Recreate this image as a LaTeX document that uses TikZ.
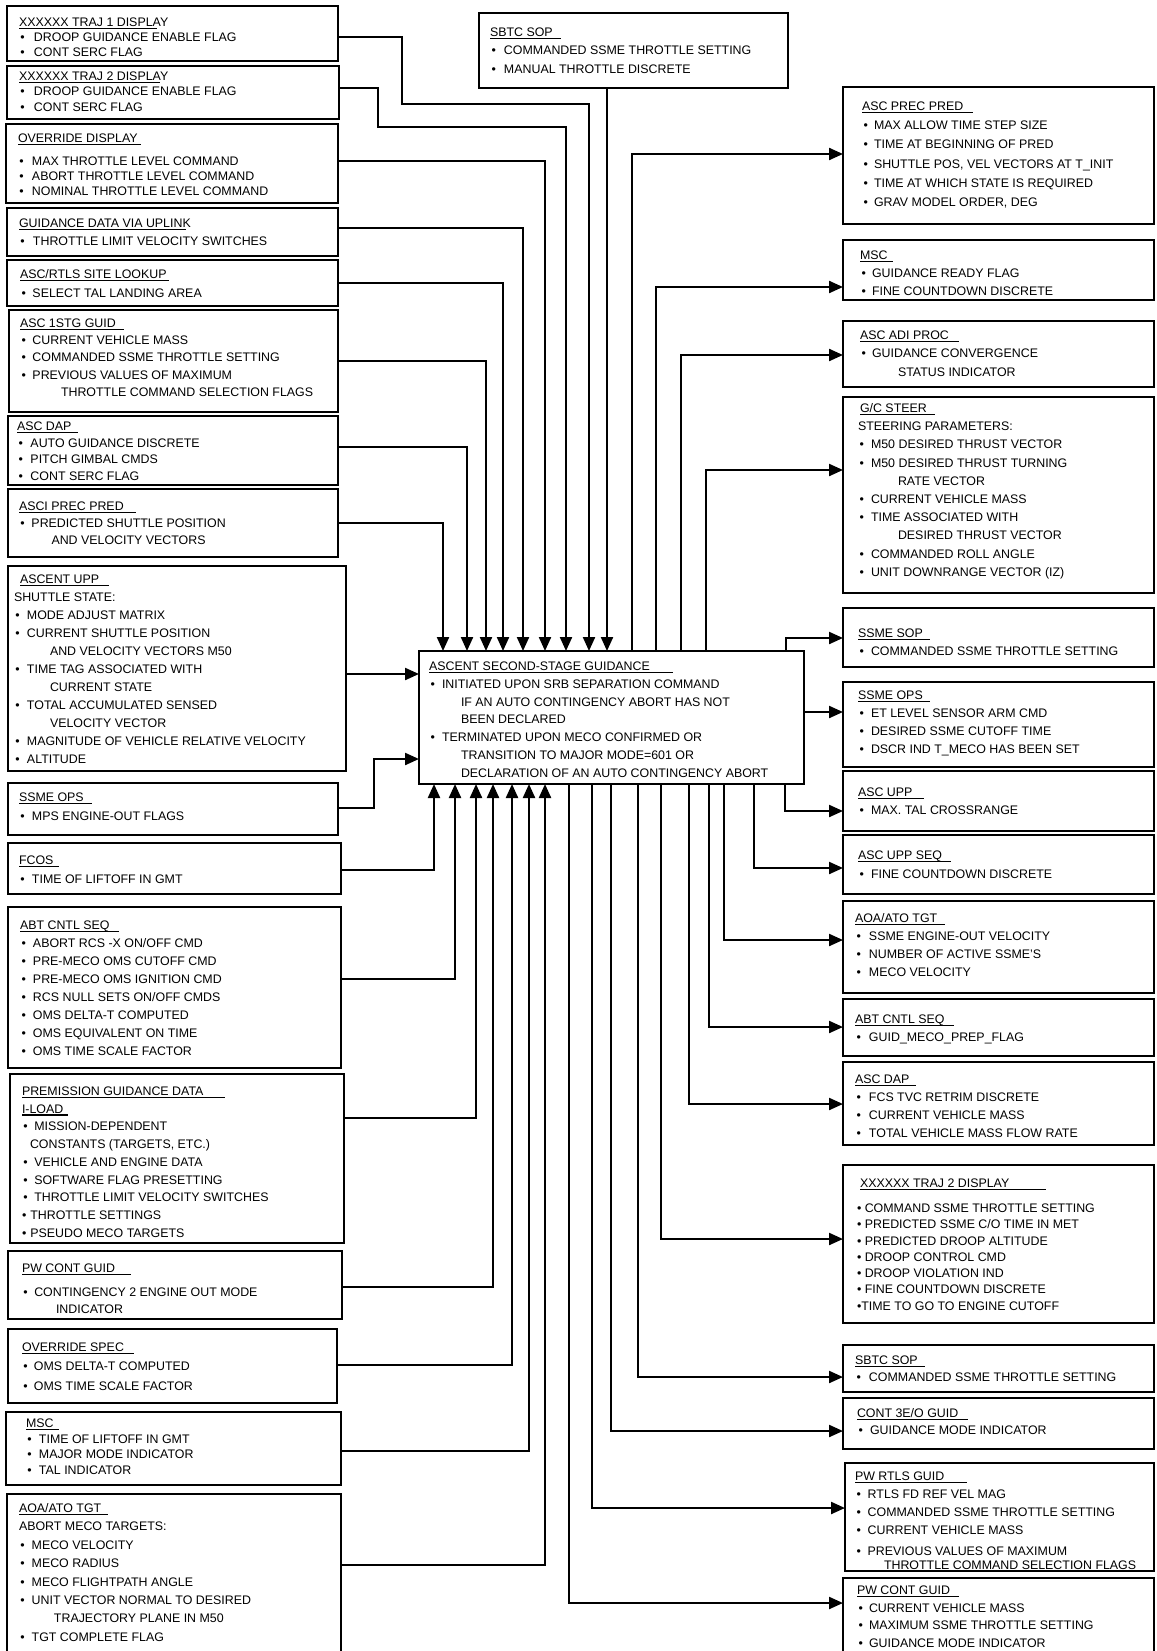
\documentclass[tikz,border=0pt]{standalone}
\usepackage{fontspec}
\setmainfont{Liberation Sans}
\usetikzlibrary{arrows.meta}
\newsavebox\ulb
\newcommand\ulx[2][8]{\sbox\ulb{#2}\rlap{\rule[-3pt]{\dimexpr\wd\ulb+#1pt\relax}{1.8pt}}\usebox\ulb}
\newcommand\bul[1][11.5]{\hspace*{1.5pt}\makebox[#1pt][l]{\textbullet}}
\newcommand\mkbox[5]{\node[bxs, minimum width={#4-#2}, minimum height={#5-#3}] (#1) at (#2,#3) {};}
\newcommand\mktext[5]{\node[txts, font=\fontsize{12.4}{#4}\selectfont] (#1) at (#2,{#3+4.4-0.7*#4}) {\strut#5};}
\tikzset{
  bxs/.style={draw, line width=2.8pt, inner sep=0pt, outer sep=0pt, anchor=north west},
  txts/.style={anchor=north west, inner sep=0pt, outer sep=0pt, align=left},
  conn/.style={line width=2.2pt},
  arr/.style={conn, -{Triangle[length=14pt,width=12pt]}},
}
\begin{document}
\begin{tikzpicture}[x=1pt,y=-1pt]
\fill[white] (0,0) rectangle (1156,1651);
\useasboundingbox (0,0) rectangle (1156,1651);

% ---------------- left column ----------------
\mkbox{tl1}{7}{6}{338}{61}
\mktext{tl1t}{19}{22}{15}{\ulx[-11]{XXXXXX TRAJ 1 DISPLAY}\\ \bul[13.5]DROOP GUIDANCE ENABLE FLAG\\ \bul[13.5]CONT SERC FLAG}
\mkbox{tl2}{7}{66}{339}{119}
\mktext{tl2t}{19}{76}{15.5}{\ulx[-8]{XXXXXX TRAJ 2 DISPLAY}\\ \bul[13.5]DROOP GUIDANCE ENABLE FLAG\\ \bul[13.5]CONT SERC FLAG}
\mkbox{ovd}{6}{124}{338}{203}
\mktext{ovdt}{18}{138}{15}{\ulx[3]{OVERRIDE DISPLAY}\\[8pt] \bul[12.5]MAX THROTTLE LEVEL COMMAND\\ \bul[12.5]ABORT THROTTLE LEVEL COMMAND\\ \bul[12.5]NOMINAL THROTTLE LEVEL COMMAND}
\mkbox{gdu}{7}{208}{338}{256}
\mktext{gdut}{19}{223}{18}{\ulx[-5]{GUIDANCE DATA VIA UPLINK}\\ \bul[12.5]THROTTLE LIMIT VELOCITY SWITCHES}
\mkbox{rtls}{7}{260}{338}{306}
\mktext{rtlst}{20}{274}{19}{\ulx[2]{ASC/RTLS SITE LOOKUP}\\ \bul[11]SELECT TAL LANDING AREA}
\mkbox{s1g}{9}{310}{338}{412}
\mktext{s1gt}{20}{323}{17.25}{\ulx[8]{ASC 1STG GUID}\\ \bul[11]CURRENT VEHICLE MASS\\ \bul[11]COMMANDED SSME THROTTLE SETTING\\ \bul[11]PREVIOUS VALUES OF MAXIMUM\\ \hspace*{41pt}THROTTLE COMMAND SELECTION FLAGS}
\mkbox{dapL}{8}{416}{338}{485}
\mktext{dapLt}{17}{426}{16.7}{\ulx[7]{ASC DAP}\\ \bul[12]AUTO GUIDANCE DISCRETE\\ \bul[12]PITCH GIMBAL CMDS\\ \bul[12]CONT SERC FLAG}
\mkbox{asci}{8}{489}{338}{557}
\mktext{ascit}{19}{506}{17}{\ulx[12]{ASCI PREC PRED}\\ \bul[11]PREDICTED SHUTTLE POSITION\\ \hspace*{32.5pt}AND VELOCITY VECTORS}
\mkbox{aupp}{8}{566}{346}{771}
\mktext{auppt}{14}{579}{18}{\hspace*{6pt}\ulx[10]{ASCENT UPP}\\ SHUTTLE STATE:\\ \bul MODE ADJUST MATRIX\\ \bul CURRENT SHUTTLE POSITION\\ \hspace*{36pt}AND VELOCITY VECTORS M50\\ \bul TIME TAG ASSOCIATED WITH\\ \hspace*{36pt}CURRENT STATE\\ \bul TOTAL ACCUMULATED SENSED\\ \hspace*{36pt}VELOCITY VECTOR\\ \bul MAGNITUDE OF VEHICLE RELATIVE VELOCITY\\ \bul ALTITUDE}
\mkbox{ssmeL}{8}{783}{338}{835}
\mktext{ssmeLt}{19}{797}{19}{\ulx[8]{SSME OPS}\\ \bul MPS ENGINE-OUT FLAGS}
\mkbox{fcos}{8}{843}{341}{894}
\mktext{fcost}{19}{860}{19}{\ulx[6]{FCOS}\\ \bul TIME OF LIFTOFF IN GMT}
\mkbox{abtL}{8}{907}{341}{1068}
\mktext{abtLt}{20}{925}{18}{\ulx[9]{ABT CNTL SEQ}\\ \bul ABORT RCS -X ON/OFF CMD\\ \bul PRE-MECO OMS CUTOFF CMD\\ \bul PRE-MECO OMS IGNITION CMD\\ \bul RCS NULL SETS ON/OFF CMDS\\ \bul OMS DELTA-T COMPUTED\\ \bul OMS EQUIVALENT ON TIME\\ \bul OMS TIME SCALE FACTOR}
\mkbox{prem}{10}{1074}{344}{1243}
\mktext{premt}{22}{1091}{17.75}{\ulx[22]{PREMISSION GUIDANCE DATA}\\ \ulx[5]{I-LOAD}\\ \bul[10.8]MISSION-DEPENDENT\\ \hspace*{8pt}CONSTANTS (TARGETS, ETC.)\\ \bul[10.8]VEHICLE AND ENGINE DATA\\ \bul[10.8]SOFTWARE FLAG PRESETTING\\ \bul[10.8]THROTTLE LIMIT VELOCITY SWITCHES\\ \textbullet\hspace{4pt}THROTTLE SETTINGS\\ \textbullet\hspace{4pt}PSEUDO MECO TARGETS}
\mkbox{pwcL}{8}{1251}{342}{1319}
\mktext{pwcLt}{22}{1268}{17}{\ulx[16]{PW CONT GUID}\\[7pt] \bul[10.8]CONTINGENCY 2 ENGINE OUT MODE\\ \hspace*{34pt}INDICATOR}
\mkbox{ovs}{8}{1329}{337}{1403}
\mktext{ovst}{22}{1347}{19.5}{\ulx[10]{OVERRIDE SPEC}\\ \bul[10.5]OMS DELTA-T COMPUTED\\ \bul[10.5]OMS TIME SCALE FACTOR}
\mkbox{mscL}{6}{1412}{341}{1485}
\mktext{mscLt}{26}{1423}{15.7}{\ulx[5]{MSC}\\ \bul TIME OF LIFTOFF IN GMT\\ \bul MAJOR MODE INDICATOR\\ \bul TAL INDICATOR}
\mkbox{aoaL}{7}{1494}{341}{1660}
\mktext{aoaLt}{19}{1508}{18.4}{\ulx[7]{AOA/ATO TGT}\\ ABORT MECO TARGETS:\\ \bul[11.2]MECO VELOCITY\\ \bul[11.2]MECO RADIUS\\ \bul[11.2]MECO FLIGHTPATH ANGLE\\ \bul[11.2]UNIT VECTOR NORMAL TO DESIRED\\ \hspace*{35pt}TRAJECTORY PLANE IN M50\\ \bul[11.2]TGT COMPLETE FLAG}

% ---------------- centre ----------------
\mkbox{sbtc}{479}{13}{788}{88}
\mktext{sbtct}{490}{32}{18.5}{\ulx[8]{SBTC SOP}\\ \bul[12.5]COMMANDED SSME THROTTLE SETTING\\ \bul[12.5]MANUAL THROTTLE DISCRETE}
\mkbox{ctr}{419}{651}{804}{784}
\mktext{ctrt}{429}{666}{17.8}{\ulx[23]{ASCENT SECOND-STAGE GUIDANCE}\\ \bul INITIATED UPON SRB SEPARATION COMMAND\\ \hspace*{32pt}IF AN AUTO CONTINGENCY ABORT HAS NOT\\ \hspace*{32pt}BEEN DECLARED\\ \bul TERMINATED UPON MECO CONFIRMED OR\\ \hspace*{32pt}TRANSITION TO MAJOR MODE=601 OR\\ \hspace*{32pt}DECLARATION OF AN AUTO CONTINGENCY ABORT}

% ---------------- right column ----------------
\mkbox{app}{843}{87}{1154}{224}
\mktext{appt}{862}{106}{19.2}{\ulx[10]{ASC PREC PRED}\\ \bul[10.5]MAX ALLOW TIME STEP SIZE\\ \bul[10.5]TIME AT BEGINNING OF PRED\\ \bul[10.5]SHUTTLE POS, VEL VECTORS AT T\_INIT\\ \bul[10.5]TIME AT WHICH STATE IS REQUIRED\\ \bul[10.5]GRAV MODEL ORDER, DEG}
\mkbox{mscR}{843}{240}{1154}{300}
\mktext{mscRt}{860}{255}{18}{\ulx[5]{MSC}\\ \bul[10.5]GUIDANCE READY FLAG\\ \bul[10.5]FINE COUNTDOWN DISCRETE}
\mkbox{adi}{843}{321}{1154}{387}
\mktext{adit}{860}{335}{18.5}{\ulx[10]{ASC ADI PROC}\\ \bul[10.5]GUIDANCE CONVERGENCE\\ \hspace*{38pt}STATUS INDICATOR}
\mkbox{gcs}{843}{397}{1154}{593}
\mktext{gcst}{858}{408}{18.2}{\hspace*{2pt}\ulx[8]{G/C STEER}\\ STEERING PARAMETERS:\\ \bul M50 DESIRED THRUST VECTOR\\ \bul M50 DESIRED THRUST TURNING\\ \hspace*{40pt}RATE VECTOR\\ \bul CURRENT VEHICLE MASS\\ \bul TIME ASSOCIATED WITH\\ \hspace*{40pt}DESIRED THRUST VECTOR\\ \bul COMMANDED ROLL ANGLE\\ \bul UNIT DOWNRANGE VECTOR (IZ)}
\mkbox{ssop}{843}{608}{1154}{667}
\mktext{ssopt}{858}{633}{18}{\ulx[7]{SSME SOP}\\ \bul COMMANDED SSME THROTTLE SETTING}
\mkbox{sopsR}{843}{682}{1154}{767}
\mktext{sopsRt}{858}{695}{18}{\ulx[7]{SSME OPS}\\ \bul ET LEVEL SENSOR ARM CMD\\ \bul DESIRED SSME CUTOFF TIME\\ \bul DSCR IND T\_MECO HAS BEEN SET}
\mkbox{auppR}{843}{771}{1154}{831}
\mktext{auppRt}{858}{792}{18}{\ulx[12]{ASC UPP}\\ \bul MAX. TAL CROSSRANGE}
\mkbox{aups}{843}{835}{1154}{894}
\mktext{aupst}{858}{855}{19}{\ulx[9]{ASC UPP SEQ}\\ \bul FINE COUNTDOWN DISCRETE}
\mkbox{aoaR}{843}{901}{1154}{993}
\mktext{aoaRt}{855}{918}{18}{\ulx[8]{AOA/ATO TGT}\\ \bul[12.5]SSME ENGINE-OUT VELOCITY\\ \bul[12.5]NUMBER OF ACTIVE SSME'S\\ \bul[12.5]MECO VELOCITY}
\mkbox{abtR}{843}{999}{1154}{1056}
\mktext{abtRt}{855}{1019}{18}{\ulx[9]{ABT CNTL SEQ}\\ \bul[12.5]GUID\_MECO\_PREP\_FLAG}
\mkbox{dapR}{843}{1062}{1154}{1145}
\mktext{dapRt}{855}{1079}{18}{\ulx[7]{ASC DAP}\\ \bul[12.5]FCS TVC RETRIM DISCRETE\\ \bul[12.5]CURRENT VEHICLE MASS\\ \bul[12.5]TOTAL VEHICLE MASS FLOW RATE}
\mkbox{tr2R}{843}{1165}{1154}{1323}
\mktext{tr2Rt}{857}{1183}{16.3}{\hspace*{3pt}\ulx[37]{XXXXXX TRAJ 2 DISPLAY}\\[8.7pt] \textbullet\ COMMAND SSME THROTTLE SETTING\\ \textbullet\ PREDICTED SSME C/O TIME IN MET\\ \textbullet\ PREDICTED DROOP ALTITUDE\\ \textbullet\ DROOP CONTROL CMD\\ \textbullet\ DROOP VIOLATION IND\\ \textbullet\ FINE COUNTDOWN DISCRETE\\ \textbullet TIME TO GO TO ENGINE CUTOFF}
\mkbox{sbtcR}{843}{1345}{1154}{1392}
\mktext{sbtcRt}{855}{1360}{17}{\ulx[7]{SBTC SOP}\\ \bul[12.5]COMMANDED SSME THROTTLE SETTING}
\mkbox{c3eo}{843}{1398}{1154}{1449}
\mktext{c3eot}{857}{1413}{17}{\ulx[10]{CONT 3E/O GUID}\\ \bul GUIDANCE MODE INDICATOR}
\mkbox{rtlsR}{845}{1463}{1154}{1571}
\mktext{rtlsRt}{855}{1476}{18}{\ulx[23]{PW RTLS GUID}\\ \bul[11.2]RTLS FD REF VEL MAG\\ \bul[11.2]COMMANDED SSME THROTTLE SETTING\\ \bul[11.2]CURRENT VEHICLE MASS\\[3pt] \bul[11.2]PREVIOUS VALUES OF MAXIMUM\\[-4pt] \hspace*{29pt}THROTTLE COMMAND SELECTION FLAGS}
\mkbox{pwcR}{843}{1578}{1154}{1660}
\mktext{pwcRt}{857}{1590}{17.7}{\ulx[9]{PW CONT GUID}\\ \bul[10.5]CURRENT VEHICLE MASS\\ \bul[10.5]MAXIMUM SSME THROTTLE SETTING\\ \bul[10.5]GUIDANCE MODE INDICATOR}

% ---------------- connectors into the centre ----------------
\draw[arr] (tl1.east |- 0,37) -- (402,37) -- (402,104) -- (589,104) -- (ctr.north -| 589,0);
\draw[arr] (tl2.east |- 0,88) -- (378,88) -- (378,127) -- (566,127) -- (ctr.north -| 566,0);
\draw[arr] (ovd.east |- 0,161) -| (ctr.north -| 545,0);
\draw[arr] (gdu.east |- 0,228) -| (ctr.north -| 523,0);
\draw[arr] (rtls.east |- 0,283) -| (ctr.north -| 503,0);
\draw[arr] (s1g.east |- 0,361) -| (ctr.north -| 486,0);
\draw[arr] (dapL.east |- 0,447) -| (ctr.north -| 467,0);
\draw[arr] (asci.east |- 0,523) -| (ctr.north -| 443,0);
\draw[arr] (sbtc.south -| 607,0) -- (ctr.north -| 607,0);
\draw[arr] (aupp.east |- 0,674) -- (ctr.west |- 0,674);
\draw[arr] (ssmeL.east |- 0,808) -- (374,808) -- (374,759) -- (ctr.west |- 0,759);
\draw[arr] (fcos.east |- 0,870) -| (ctr.south -| 434,0);
\draw[arr] (abtL.east |- 0,979) -| (ctr.south -| 455,0);
\draw[arr] (prem.east |- 0,1118) -| (ctr.south -| 476,0);
\draw[arr] (pwcL.east |- 0,1287) -| (ctr.south -| 493,0);
\draw[arr] (ovs.east |- 0,1365) -| (ctr.south -| 512,0);
\draw[arr] (mscL.east |- 0,1451) -| (ctr.south -| 529,0);
\draw[arr] (aoaL.east |- 0,1565) -| (ctr.south -| 545,0);

% ---------------- connectors out of the centre ----------------
\draw[arr] (ctr.north -| 632,0) |- (app.west |- 0,154);
\draw[arr] (ctr.north -| 656,0) |- (mscR.west |- 0,287);
\draw[arr] (ctr.north -| 681,0) |- (adi.west |- 0,355);
\draw[arr] (ctr.north -| 706,0) |- (gcs.west |- 0,470);
\draw[arr] (ctr.north -| 786,0) |- (ssop.west |- 0,638);
\draw[arr] (ctr.east |- 0,712) -- (sopsR.west |- 0,712);
\draw[arr] (ctr.south -| 785,0) |- (auppR.west |- 0,811);
\draw[arr] (ctr.south -| 754,0) |- (aups.west |- 0,868);
\draw[arr] (ctr.south -| 724,0) |- (aoaR.west |- 0,940);
\draw[arr] (ctr.south -| 709,0) |- (abtR.west |- 0,1027);
\draw[arr] (ctr.south -| 689,0) |- (dapR.west |- 0,1104);
\draw[arr] (ctr.south -| 661,0) |- (tr2R.west |- 0,1239);
\draw[arr] (ctr.south -| 638,0) |- (sbtcR.west |- 0,1377);
\draw[arr] (ctr.south -| 611,0) |- (c3eo.west |- 0,1431);
\draw[arr] (ctr.south -| 592,0) |- (rtlsR.west |- 0,1508);
\draw[arr] (ctr.south -| 569,0) |- (pwcR.west |- 0,1603);
\end{tikzpicture}
\end{document}
